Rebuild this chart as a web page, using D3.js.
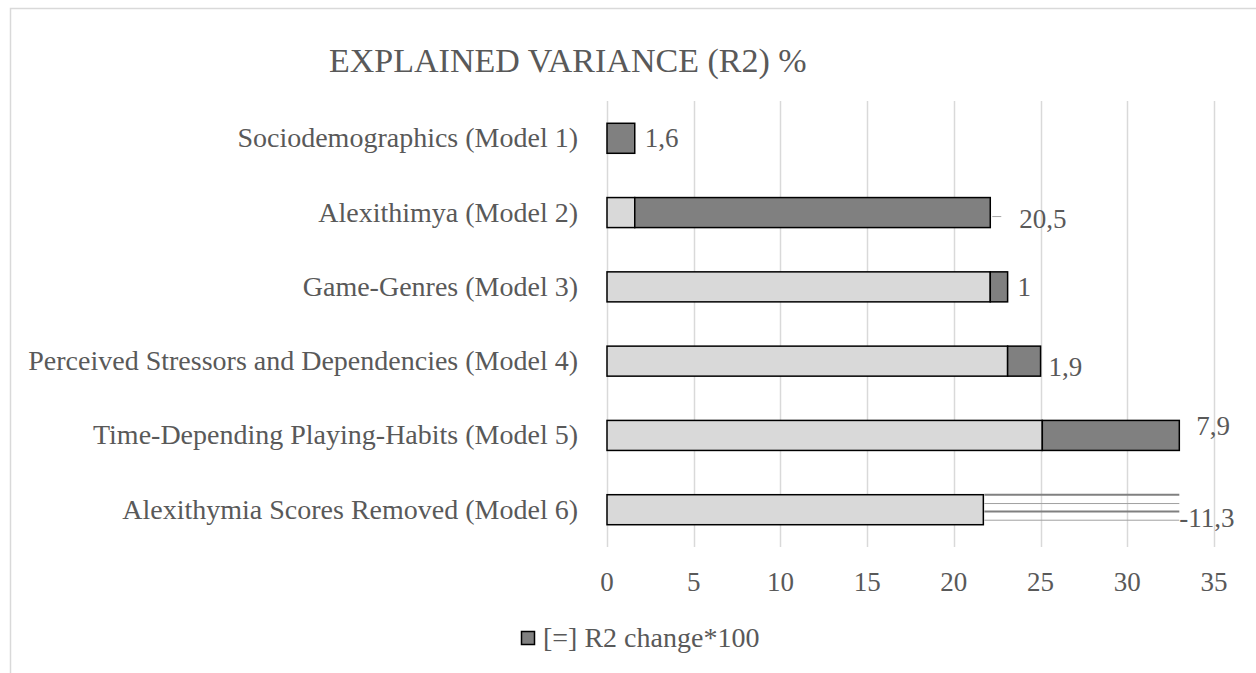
<!DOCTYPE html>
<html>
<head>
<meta charset="utf-8">
<script src="https://cdn.jsdelivr.net/npm/d3@7"></script>
<style>
  html, body { margin: 0; padding: 0; background: #fff; }
  svg { display: block; }
  svg text { font-family: "Liberation Serif", "DejaVu Serif", serif; }
</style>
</head>
<body>
<svg id="svg" width="1256" height="673"></svg>
<script>
// chart values
var models = [
  'Sociodemographics (Model 1)',
  'Alexithimya (Model 2)',
  'Game-Genres (Model 3)',
  'Perceived Stressors and Dependencies (Model 4)',
  'Time-Depending Playing-Habits (Model 5)',
  'Alexithymia Scores Removed (Model 6)'
];
var previousR2 = [0, 1.6, 22.1, 23.1, 25.1, 21.7];
var r2Change = [1.6, 20.5, 1, 1.9, 7.9, -11.3];
var xTicks = [0, 5, 10, 15, 20, 25, 30, 35];
var legendLabel = '[=] R2 change*100';
var title = 'EXPLAINED VARIANCE (R2) %';

// small nudges of the data labels, like the hand-moved ones in the original
var labelShift = [[10, 9], [29, 15], [10, 9], [8, 15], [17, 0], [0, 17]];

var svg = d3.select('#svg');
var margin = { top: 101, left: 607, right: 42, bottom: 126 };
var width = 1256, height = 673;

var x = d3.scaleLinear().domain([0, 35]).range([margin.left, width - margin.right]);
var y = d3.scaleBand().domain(models).range([margin.top, height - margin.bottom])
          .paddingInner(0.596).paddingOuter(0.3);

var grey = '#595959';

// outer border
svg.append('rect')
   .attr('x', 10.5).attr('y', 8.5).attr('width', 1300).attr('height', 700)
   .attr('fill', 'none').attr('stroke', '#d9d9d9').attr('stroke-width', 1.5);

svg.append('text')
   .attr('x', 329).attr('y', 72)
   .attr('font-size', 34).attr('fill', grey)
   .text(title);

// gridlines
svg.append('g').selectAll('line')
   .data(xTicks).enter().append('line')
   .attr('x1', d => Math.round(x(d)) + 0.5).attr('x2', d => Math.round(x(d)) + 0.5)
   .attr('y1', margin.top).attr('y2', height - margin.bottom)
   .attr('stroke', '#d9d9d9').attr('stroke-width', 1.5);

// tick labels
svg.append('g').selectAll('text')
   .data(xTicks).enter().append('text')
   .attr('x', d => x(d)).attr('y', 591)
   .attr('text-anchor', 'middle')
   .attr('font-size', 27).attr('fill', grey)
   .text(d => d);

// category labels
svg.append('g').selectAll('text')
   .data(models).enter().append('text')
   .attr('x', 578).attr('y', d => y(d) + y.bandwidth() / 2 + 9)
   .attr('text-anchor', 'end')
   .attr('font-size', 28).attr('fill', grey)
   .text(d => d);

var rows = models.map(function(m, i) {
  return { name: m, base: previousR2[i], change: r2Change[i], i: i };
});

// light part: previous model
svg.append('g').selectAll('rect')
   .data(rows.filter(d => d.base > 0)).enter().append('rect')
   .attr('x', d => x(0)).attr('y', d => y(d.name))
   .attr('width', d => x(d.base) - x(0)).attr('height', y.bandwidth())
   .attr('fill', '#d9d9d9').attr('stroke', '#000').attr('stroke-width', 1.5);

// dark part: positive change
svg.append('g').selectAll('rect')
   .data(rows.filter(d => d.change > 0)).enter().append('rect')
   .attr('x', d => x(d.base)).attr('y', d => y(d.name))
   .attr('width', d => x(d.base + d.change) - x(d.base)).attr('height', y.bandwidth())
   .attr('fill', '#808080').attr('stroke', '#000').attr('stroke-width', 1.5);

// removed part: drawn as horizontal hatch
var removed = rows.filter(d => d.change < 0);
removed.forEach(function(d) {
  var g = svg.append('g');
  var step = y.bandwidth() / 3.6;
  g.selectAll('line').data([0, 1, 2, 3]).enter().append('line')
   .attr('x1', x(d.base) + 1).attr('x2', x(d.base - d.change))
   .attr('y1', k => y(d.name) + k * step + (k % 2 ? 0.5 : 0))
   .attr('y2', k => y(d.name) + k * step + (k % 2 ? 0.5 : 0))
   .attr('stroke', k => k % 2 ? '#a0a0a0' : '#808080')
   .attr('stroke-width', k => k % 2 ? 1 : 2);
});

// data labels
function fmt(v) { return String(v).replace('.', ','); }
function endOf(d) { return d.change > 0 ? d.base + d.change : d.base - d.change; }

svg.append('g').selectAll('text')
   .data(rows).enter().append('text')
   .attr('x', d => x(endOf(d)) + labelShift[d.i][0])
   .attr('y', d => y(d.name) + y.bandwidth() / 2 + labelShift[d.i][1])
   .attr('font-size', 27).attr('fill', grey)
   .text(d => fmt(d.change));

// leader line for the moved label of model 2
svg.append('line')
   .attr('x1', x(endOf(rows[1])) + 2).attr('x2', x(endOf(rows[1])) + 11)
   .attr('y1', y(models[1]) + y.bandwidth() / 2 + 4)
   .attr('y2', y(models[1]) + y.bandwidth() / 2 + 4)
   .attr('stroke', '#a6a6a6').attr('stroke-width', 1);

// legend
var lg = svg.append('g');
lg.append('rect').attr('x', 521.5).attr('y', 631.5).attr('width', 13).attr('height', 13)
  .attr('fill', '#808080').attr('stroke', '#000').attr('stroke-width', 1.5);
lg.append('text').attr('x', 543).attr('y', 647)
  .attr('font-size', 28).attr('fill', grey)
  .text(legendLabel);
</script>
</body>
</html>
